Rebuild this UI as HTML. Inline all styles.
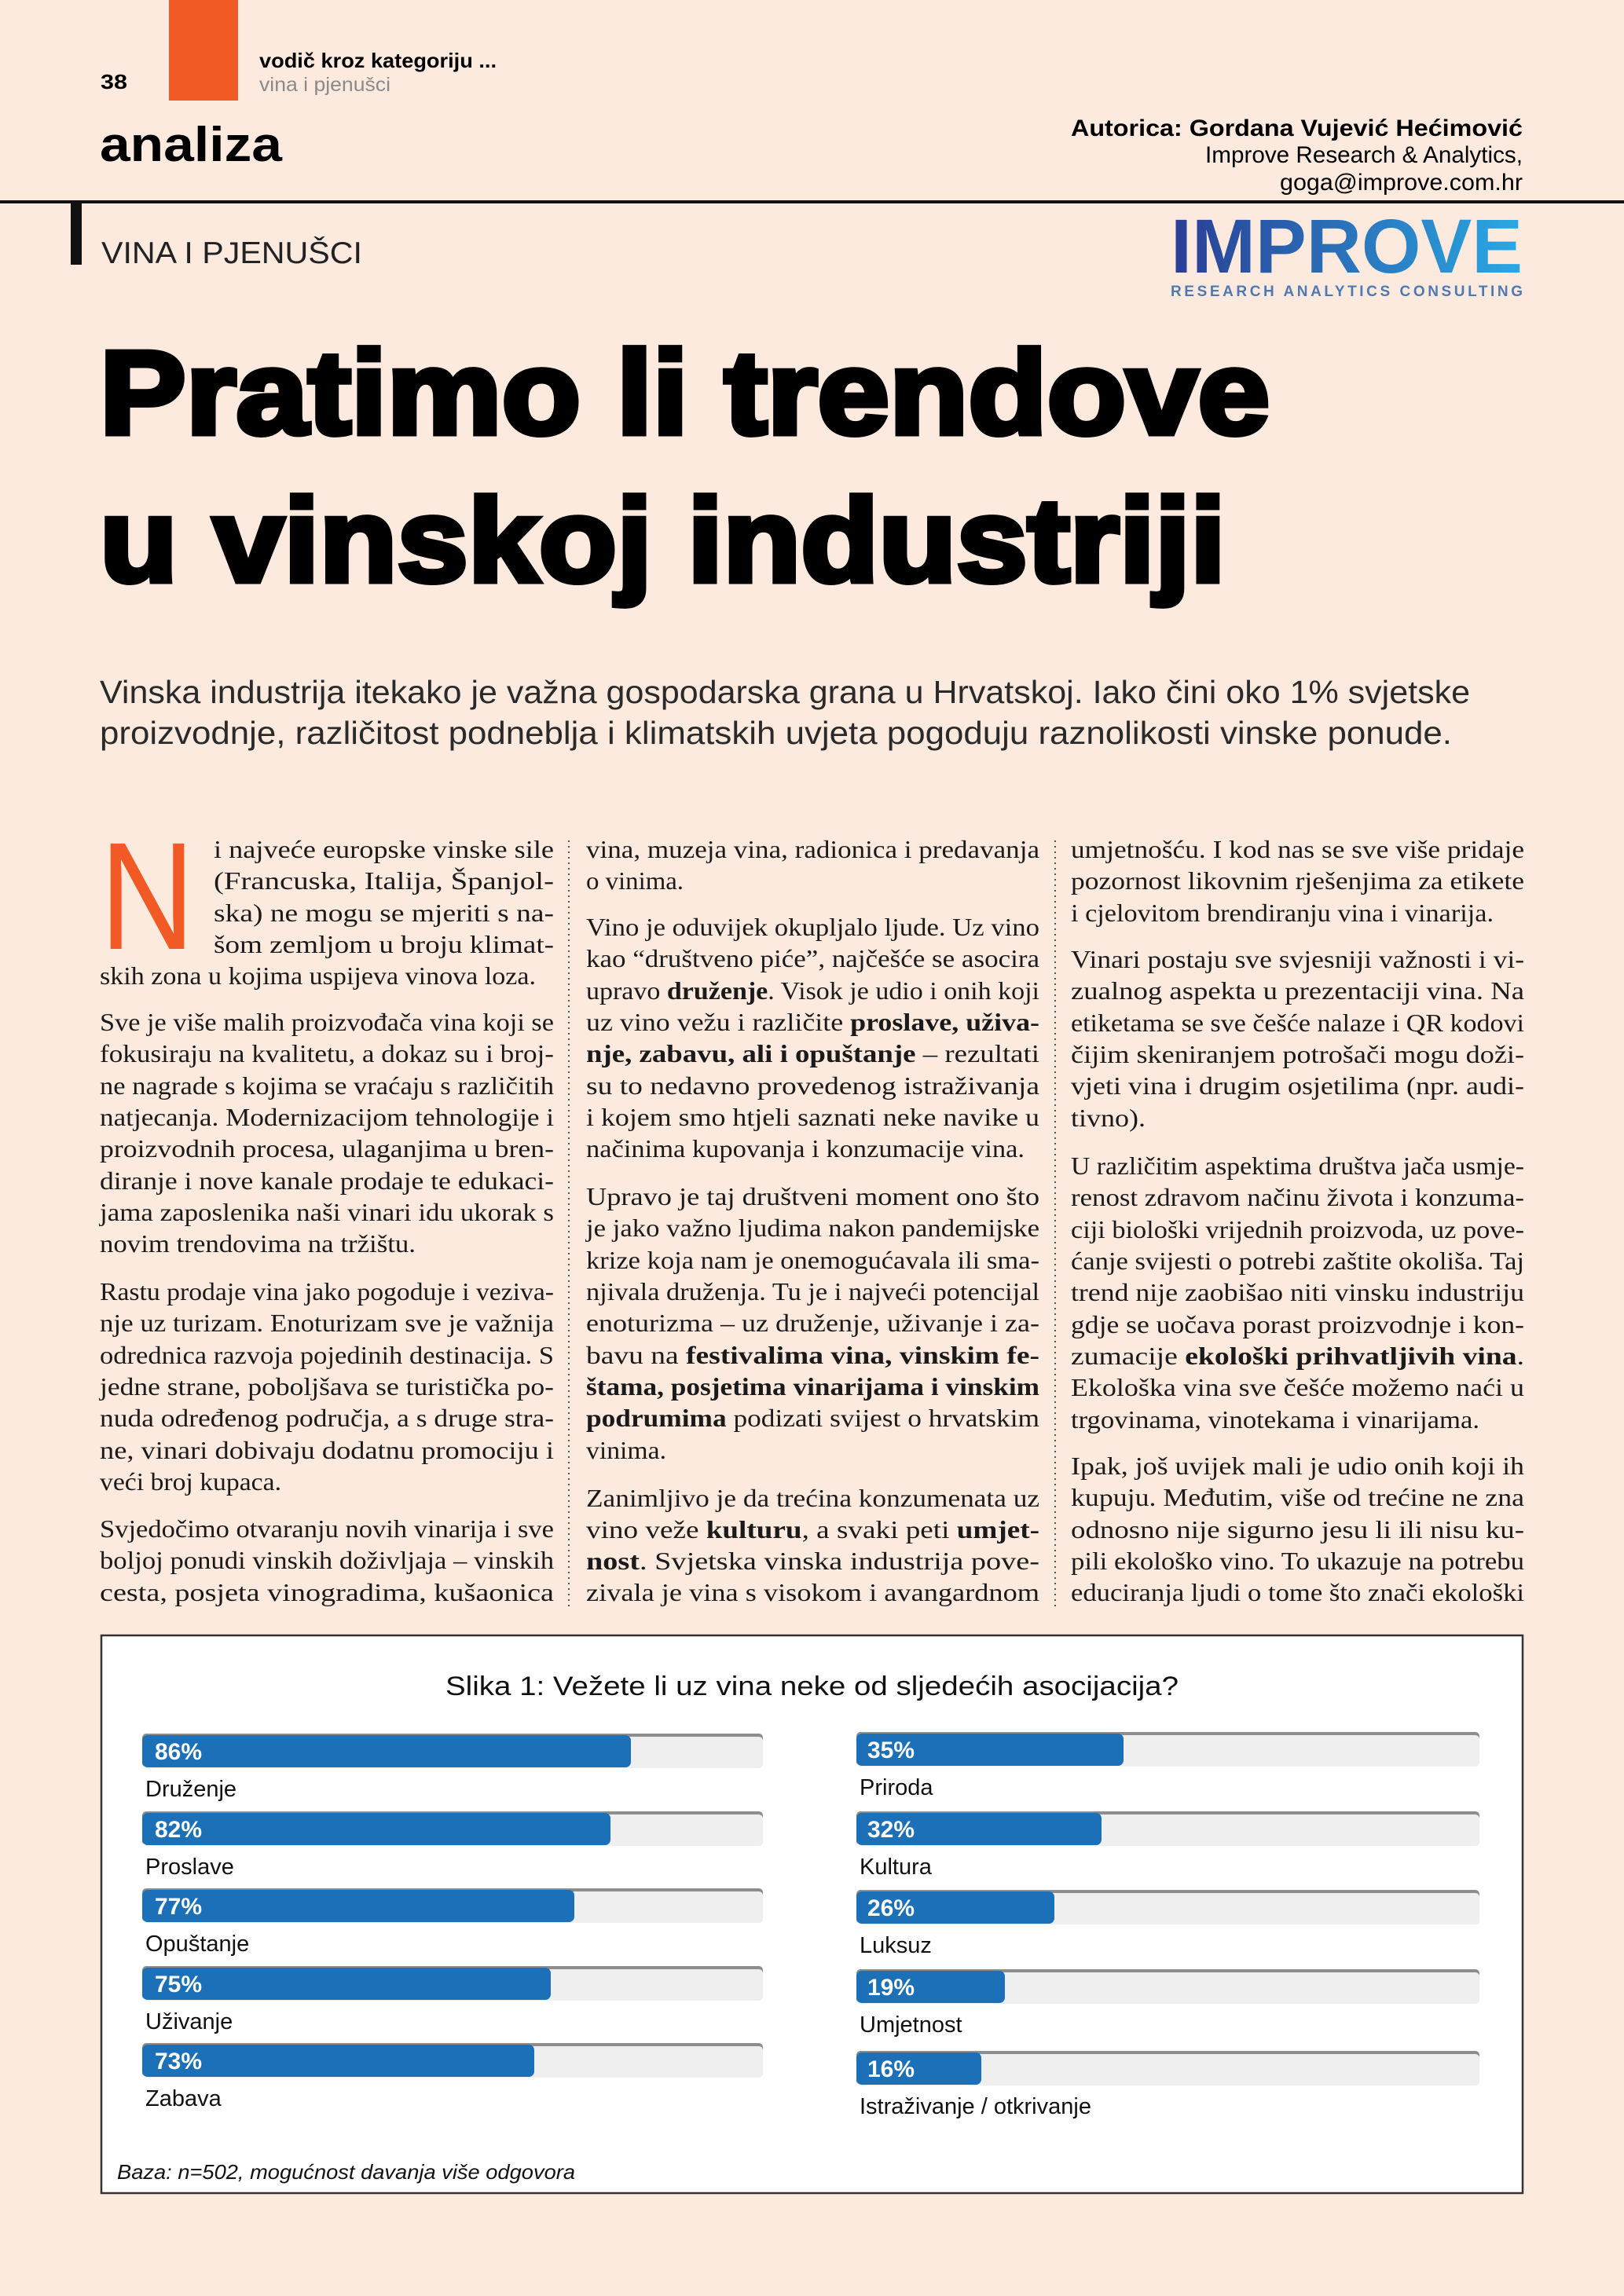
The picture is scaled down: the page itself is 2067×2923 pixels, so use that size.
<!DOCTYPE html>
<html><head><meta charset="utf-8"><style>
html,body{margin:0;padding:0;background:#fdeadf;}
svg{display:block}
.b{font-family:"Liberation Serif",serif;font-size:32px;fill:#1a1a1a}
.bb{font-weight:bold}
.s{font-family:"Liberation Sans",sans-serif}
</style></head><body>
<svg width="2067" height="2923" viewBox="0 0 2067 2923" xmlns="http://www.w3.org/2000/svg">
<defs><linearGradient id="g" x1="0" x2="1"><stop offset="0" stop-color="#2a3d94"/><stop offset="1" stop-color="#2aa9e2"/></linearGradient></defs>
<rect width="2067" height="2923" fill="#fdeadf"/>
<rect x="215" y="0" width="88" height="128" fill="#f15a24"/>
<text class="s" x="128" y="113" font-size="26" font-weight="bold" textLength="34" lengthAdjust="spacingAndGlyphs">38</text>
<text class="s" x="330" y="86" font-size="26" font-weight="bold" textLength="302" lengthAdjust="spacingAndGlyphs">vodič kroz kategoriju ...</text>
<text class="s" x="330" y="116" font-size="25" fill="#8a8a8a" textLength="167" lengthAdjust="spacingAndGlyphs">vina i pjenušci</text>
<text class="s" x="127" y="205" font-size="62" font-weight="bold" textLength="232" lengthAdjust="spacingAndGlyphs">analiza</text>
<text class="s" x="1363" y="173" font-size="30" font-weight="bold" textLength="575" lengthAdjust="spacingAndGlyphs">Autorica: Gordana Vujević Hećimović</text>
<text class="s" x="1534" y="207" font-size="30" textLength="404" lengthAdjust="spacingAndGlyphs">Improve Research &amp; Analytics,</text>
<text class="s" x="1629" y="242" font-size="30" textLength="309" lengthAdjust="spacingAndGlyphs">goga@improve.com.hr</text>
<rect x="0" y="255" width="2067" height="4" fill="#111"/>
<rect x="90" y="257" width="14" height="80" fill="#111"/>
<text class="s" x="129" y="335" font-size="39" fill="#222" textLength="332" lengthAdjust="spacingAndGlyphs">VINA I PJENUŠCI</text>
<text class="s" x="1490" y="347" font-size="97" font-weight="bold" fill="url(#g)" textLength="448" lengthAdjust="spacingAndGlyphs">IMPROVE</text>
<text class="s" x="1490" y="377" font-size="19" font-weight="bold" fill="#4f79b3" textLength="448" lengthAdjust="spacing">RESEARCH  ANALYTICS  CONSULTING</text>
<text class="s" x="127" y="552" font-size="151" font-weight="bold" stroke="#000" stroke-width="7" textLength="1489" lengthAdjust="spacingAndGlyphs">Pratimo li trendove</text>
<text class="s" x="127" y="740" font-size="151" font-weight="bold" stroke="#000" stroke-width="7" textLength="1433" lengthAdjust="spacingAndGlyphs">u vinskoj industriji</text>
<text class="s" x="127" y="895" font-size="41" fill="#2a2a2a" textLength="1744" lengthAdjust="spacingAndGlyphs">Vinska industrija itekako je važna gospodarska grana u Hrvatskoj. Iako čini oko  1% svjetske</text>
<text class="s" x="127" y="947" font-size="41" fill="#2a2a2a" textLength="1721" lengthAdjust="spacingAndGlyphs">proizvodnje, različitost podneblja i klimatskih uvjeta pogoduju raznolikosti vinske ponude.</text>
<text class="s" x="127" y="1208" font-size="195" fill="#f15a24" textLength="121" lengthAdjust="spacingAndGlyphs">N</text>
<line x1="724" y1="1070" x2="724" y2="2045" stroke="#555" stroke-width="2" stroke-dasharray="2,5"/>
<line x1="1343" y1="1070" x2="1343" y2="2045" stroke="#555" stroke-width="2" stroke-dasharray="2,5"/>
<g class="b">
<text x="272" y="1092" textLength="433" lengthAdjust="spacingAndGlyphs">i najveće europske vinske sile</text>
<text x="272" y="1132" textLength="433" lengthAdjust="spacingAndGlyphs">(Francuska, Italija, Španjol-</text>
<text x="272" y="1173" textLength="433" lengthAdjust="spacingAndGlyphs">ska) ne mogu se mjeriti s na-</text>
<text x="272" y="1213" textLength="433" lengthAdjust="spacingAndGlyphs">šom zemljom u broju klimat-</text>
<text x="127" y="1253" textLength="555" lengthAdjust="spacingAndGlyphs">skih zona u kojima uspijeva vinova loza.</text>
<text x="127" y="1312" textLength="578" lengthAdjust="spacingAndGlyphs">Sve je više malih proizvođača vina koji se</text>
<text x="127" y="1352" textLength="578" lengthAdjust="spacingAndGlyphs">fokusiraju na kvalitetu, a dokaz su i broj-</text>
<text x="127" y="1393" textLength="578" lengthAdjust="spacingAndGlyphs">ne nagrade s kojima se vraćaju s različitih</text>
<text x="127" y="1433" textLength="578" lengthAdjust="spacingAndGlyphs">natjecanja. Modernizacijom tehnologije i</text>
<text x="127" y="1473" textLength="578" lengthAdjust="spacingAndGlyphs">proizvodnih procesa, ulaganjima u bren-</text>
<text x="127" y="1514" textLength="578" lengthAdjust="spacingAndGlyphs">diranje i nove kanale prodaje te edukaci-</text>
<text x="127" y="1554" textLength="578" lengthAdjust="spacingAndGlyphs">jama zaposlenika naši vinari idu ukorak s</text>
<text x="127" y="1594" textLength="402" lengthAdjust="spacingAndGlyphs">novim trendovima na tržištu.</text>
<text x="127" y="1655" textLength="578" lengthAdjust="spacingAndGlyphs">Rastu prodaje vina jako pogoduje i veziva-</text>
<text x="127" y="1695" textLength="578" lengthAdjust="spacingAndGlyphs">nje uz turizam. Enoturizam sve je važnija</text>
<text x="127" y="1736" textLength="578" lengthAdjust="spacingAndGlyphs">odrednica razvoja pojedinih destinacija. S</text>
<text x="127" y="1776" textLength="578" lengthAdjust="spacingAndGlyphs">jedne strane, poboljšava se turistička po-</text>
<text x="127" y="1816" textLength="578" lengthAdjust="spacingAndGlyphs">nuda određenog područja, a s druge stra-</text>
<text x="127" y="1857" textLength="578" lengthAdjust="spacingAndGlyphs">ne, vinari dobivaju dodatnu promociju i</text>
<text x="127" y="1897" textLength="231" lengthAdjust="spacingAndGlyphs">veći broj kupaca.</text>
<text x="127" y="1957" textLength="578" lengthAdjust="spacingAndGlyphs">Svjedočimo otvaranju novih vinarija i sve</text>
<text x="127" y="1997" textLength="578" lengthAdjust="spacingAndGlyphs">boljoj ponudi vinskih doživljaja – vinskih</text>
<text x="127" y="2038" textLength="578" lengthAdjust="spacingAndGlyphs">cesta, posjeta vinogradima, kušaonica</text>

<text x="746" y="1092" textLength="577" lengthAdjust="spacingAndGlyphs">vina, muzeja vina, radionica i predavanja</text>
<text x="746" y="1132" textLength="124" lengthAdjust="spacingAndGlyphs">o vinima.</text>
<text x="746" y="1191" textLength="577" lengthAdjust="spacingAndGlyphs">Vino je oduvijek okupljalo ljude. Uz vino</text>
<text x="746" y="1231" textLength="577" lengthAdjust="spacingAndGlyphs">kao “društveno piće”, najčešće se asocira</text>
<text x="746" y="1272" textLength="577" lengthAdjust="spacingAndGlyphs">upravo <tspan class="bb">druženje</tspan>. Visok je udio i onih koji</text>
<text x="746" y="1312" textLength="577" lengthAdjust="spacingAndGlyphs">uz vino vežu i različite <tspan class="bb">proslave, uživa-</tspan></text>
<text x="746" y="1352" textLength="577" lengthAdjust="spacingAndGlyphs"><tspan class="bb">nje, zabavu, ali i opuštanje</tspan> – rezultati</text>
<text x="746" y="1393" textLength="577" lengthAdjust="spacingAndGlyphs">su to nedavno provedenog istraživanja</text>
<text x="746" y="1433" textLength="577" lengthAdjust="spacingAndGlyphs">i kojem smo htjeli saznati neke navike u</text>
<text x="746" y="1473" textLength="558" lengthAdjust="spacingAndGlyphs">načinima kupovanja i konzumacije vina.</text>
<text x="746" y="1534" textLength="577" lengthAdjust="spacingAndGlyphs">Upravo je taj društveni moment ono što</text>
<text x="746" y="1574" textLength="577" lengthAdjust="spacingAndGlyphs">je jako važno ljudima nakon pandemijske</text>
<text x="746" y="1615" textLength="577" lengthAdjust="spacingAndGlyphs">krize koja nam je onemogućavala ili sma-</text>
<text x="746" y="1655" textLength="577" lengthAdjust="spacingAndGlyphs">njivala druženja. Tu je i najveći potencijal</text>
<text x="746" y="1695" textLength="577" lengthAdjust="spacingAndGlyphs">enoturizma – uz druženje, uživanje i za-</text>
<text x="746" y="1736" textLength="577" lengthAdjust="spacingAndGlyphs">bavu na <tspan class="bb">festivalima vina, vinskim fe-</tspan></text>
<text x="746" y="1776" textLength="577" lengthAdjust="spacingAndGlyphs" class="b bb">štama, posjetima vinarijama i vinskim</text>
<text x="746" y="1816" textLength="577" lengthAdjust="spacingAndGlyphs"><tspan class="bb">podrumima</tspan> podizati svijest o hrvatskim</text>
<text x="746" y="1857" textLength="102" lengthAdjust="spacingAndGlyphs">vinima.</text>
<text x="746" y="1918" textLength="577" lengthAdjust="spacingAndGlyphs">Zanimljivo je da trećina konzumenata uz</text>
<text x="746" y="1958" textLength="577" lengthAdjust="spacingAndGlyphs">vino veže <tspan class="bb">kulturu</tspan>, a svaki peti <tspan class="bb">umjet-</tspan></text>
<text x="746" y="1998" textLength="577" lengthAdjust="spacingAndGlyphs"><tspan class="bb">nost</tspan>. Svjetska vinska industrija pove-</text>
<text x="746" y="2038" textLength="577" lengthAdjust="spacingAndGlyphs">zivala je vina s visokom i avangardnom</text>

<text x="1363" y="1092" textLength="577" lengthAdjust="spacingAndGlyphs">umjetnošću. I kod nas se sve više pridaje</text>
<text x="1363" y="1132" textLength="577" lengthAdjust="spacingAndGlyphs">pozornost likovnim rješenjima za etikete</text>
<text x="1363" y="1173" textLength="538" lengthAdjust="spacingAndGlyphs">i cjelovitom brendiranju vina i vinarija.</text>
<text x="1363" y="1232" textLength="577" lengthAdjust="spacingAndGlyphs">Vinari postaju sve svjesniji važnosti i vi-</text>
<text x="1363" y="1272" textLength="577" lengthAdjust="spacingAndGlyphs">zualnog aspekta u prezentaciji vina. Na</text>
<text x="1363" y="1313" textLength="577" lengthAdjust="spacingAndGlyphs">etiketama se sve češće nalaze i QR kodovi</text>
<text x="1363" y="1353" textLength="577" lengthAdjust="spacingAndGlyphs">čijim skeniranjem potrošači mogu doži-</text>
<text x="1363" y="1393" textLength="577" lengthAdjust="spacingAndGlyphs">vjeti vina i drugim osjetilima (npr. audi-</text>
<text x="1363" y="1434" textLength="95" lengthAdjust="spacingAndGlyphs">tivno).</text>
<text x="1363" y="1495" textLength="577" lengthAdjust="spacingAndGlyphs">U različitim aspektima društva jača usmje-</text>
<text x="1363" y="1535" textLength="577" lengthAdjust="spacingAndGlyphs">renost zdravom načinu života i konzuma-</text>
<text x="1363" y="1576" textLength="577" lengthAdjust="spacingAndGlyphs">ciji biološki vrijednih proizvoda, uz pove-</text>
<text x="1363" y="1616" textLength="577" lengthAdjust="spacingAndGlyphs">ćanje svijesti o potrebi zaštite okoliša. Taj</text>
<text x="1363" y="1656" textLength="577" lengthAdjust="spacingAndGlyphs">trend nije zaobišao niti vinsku industriju</text>
<text x="1363" y="1697" textLength="577" lengthAdjust="spacingAndGlyphs">gdje se uočava porast proizvodnje i kon-</text>
<text x="1363" y="1737" textLength="577" lengthAdjust="spacingAndGlyphs">zumacije <tspan class="bb">ekološki prihvatljivih vina</tspan>.</text>
<text x="1363" y="1777" textLength="577" lengthAdjust="spacingAndGlyphs">Ekološka vina sve češće možemo naći u</text>
<text x="1363" y="1818" textLength="520" lengthAdjust="spacingAndGlyphs">trgovinama, vinotekama i vinarijama.</text>
<text x="1363" y="1877" textLength="577" lengthAdjust="spacingAndGlyphs">Ipak, još uvijek mali je udio onih koji ih</text>
<text x="1363" y="1917" textLength="577" lengthAdjust="spacingAndGlyphs">kupuju. Međutim, više od trećine ne zna</text>
<text x="1363" y="1958" textLength="577" lengthAdjust="spacingAndGlyphs">odnosno nije sigurno jesu li ili nisu ku-</text>
<text x="1363" y="1998" textLength="577" lengthAdjust="spacingAndGlyphs">pili ekološko vino. To ukazuje na potrebu</text>
<text x="1363" y="2038" textLength="577" lengthAdjust="spacingAndGlyphs">educiranja ljudi o tome što znači ekološki</text>
</g>

<rect x="129" y="2082" width="1809" height="710" fill="#fff" stroke="#333" stroke-width="2.5"/>
<text class="s" x="567" y="2158" font-size="34" fill="#111" textLength="933" lengthAdjust="spacingAndGlyphs">Slika 1: Vežete li uz vina neke od sljedećih asocijacija?</text>
<g class="s">
<g>
<rect x="181" y="2207" width="790" height="43" rx="5" fill="#8d8d8d"/><rect x="182" y="2211" width="789" height="40" rx="5" fill="#efefef"/>
<rect x="181" y="2209" width="622" height="41" rx="7" fill="#1b70b8"/><text x="197" y="2240" font-size="30" font-weight="bold" fill="#fff">86%</text>
<text x="185" y="2287" font-size="29" fill="#111">Druženje</text>
</g>
<g>
<rect x="181" y="2306" width="790" height="43" rx="5" fill="#8d8d8d"/><rect x="182" y="2310" width="789" height="40" rx="5" fill="#efefef"/>
<rect x="181" y="2308" width="596" height="41" rx="7" fill="#1b70b8"/><text x="197" y="2339" font-size="30" font-weight="bold" fill="#fff">82%</text>
<text x="185" y="2386" font-size="29" fill="#111">Proslave</text>
</g>
<g>
<rect x="181" y="2404" width="790" height="43" rx="5" fill="#8d8d8d"/><rect x="182" y="2408" width="789" height="40" rx="5" fill="#efefef"/>
<rect x="181" y="2406" width="550" height="41" rx="7" fill="#1b70b8"/><text x="197" y="2437" font-size="30" font-weight="bold" fill="#fff">77%</text>
<text x="185" y="2484" font-size="29" fill="#111">Opuštanje</text>
</g>
<g>
<rect x="181" y="2503" width="790" height="43" rx="5" fill="#8d8d8d"/><rect x="182" y="2507" width="789" height="40" rx="5" fill="#efefef"/>
<rect x="181" y="2505" width="520" height="41" rx="7" fill="#1b70b8"/><text x="197" y="2536" font-size="30" font-weight="bold" fill="#fff">75%</text>
<text x="185" y="2583" font-size="29" fill="#111">Uživanje</text>
</g>
<g>
<rect x="181" y="2601" width="790" height="43" rx="5" fill="#8d8d8d"/><rect x="182" y="2605" width="789" height="40" rx="5" fill="#efefef"/>
<rect x="181" y="2603" width="499" height="41" rx="7" fill="#1b70b8"/><text x="197" y="2634" font-size="30" font-weight="bold" fill="#fff">73%</text>
<text x="185" y="2681" font-size="29" fill="#111">Zabava</text>
</g>
<g>
<rect x="1090" y="2205" width="793" height="43" rx="5" fill="#8d8d8d"/><rect x="1091" y="2209" width="792" height="40" rx="5" fill="#efefef"/>
<rect x="1090" y="2207" width="340" height="41" rx="7" fill="#1b70b8"/><text x="1104" y="2238" font-size="30" font-weight="bold" fill="#fff">35%</text>
<text x="1094" y="2285" font-size="29" fill="#111">Priroda</text>
</g>
<g>
<rect x="1090" y="2306" width="793" height="43" rx="5" fill="#8d8d8d"/><rect x="1091" y="2310" width="792" height="40" rx="5" fill="#efefef"/>
<rect x="1090" y="2308" width="312" height="41" rx="7" fill="#1b70b8"/><text x="1104" y="2339" font-size="30" font-weight="bold" fill="#fff">32%</text>
<text x="1094" y="2386" font-size="29" fill="#111">Kultura</text>
</g>
<g>
<rect x="1090" y="2406" width="793" height="43" rx="5" fill="#8d8d8d"/><rect x="1091" y="2410" width="792" height="40" rx="5" fill="#efefef"/>
<rect x="1090" y="2408" width="252" height="41" rx="7" fill="#1b70b8"/><text x="1104" y="2439" font-size="30" font-weight="bold" fill="#fff">26%</text>
<text x="1094" y="2486" font-size="29" fill="#111">Luksuz</text>
</g>
<g>
<rect x="1090" y="2507" width="793" height="43" rx="5" fill="#8d8d8d"/><rect x="1091" y="2511" width="792" height="40" rx="5" fill="#efefef"/>
<rect x="1090" y="2509" width="189" height="41" rx="7" fill="#1b70b8"/><text x="1104" y="2540" font-size="30" font-weight="bold" fill="#fff">19%</text>
<text x="1094" y="2587" font-size="29" fill="#111">Umjetnost</text>
</g>
<g>
<rect x="1090" y="2611" width="793" height="43" rx="5" fill="#8d8d8d"/><rect x="1091" y="2615" width="792" height="40" rx="5" fill="#efefef"/>
<rect x="1090" y="2613" width="159" height="41" rx="7" fill="#1b70b8"/><text x="1104" y="2644" font-size="30" font-weight="bold" fill="#fff">16%</text>
<text x="1094" y="2691" font-size="29" fill="#111">Istraživanje / otkrivanje</text>
</g>
</g>
<text class="s" x="149" y="2774" font-size="26" font-style="italic" fill="#111" textLength="583" lengthAdjust="spacingAndGlyphs">Baza: n=502, mogućnost davanja više odgovora</text>
</svg>
</body></html>
